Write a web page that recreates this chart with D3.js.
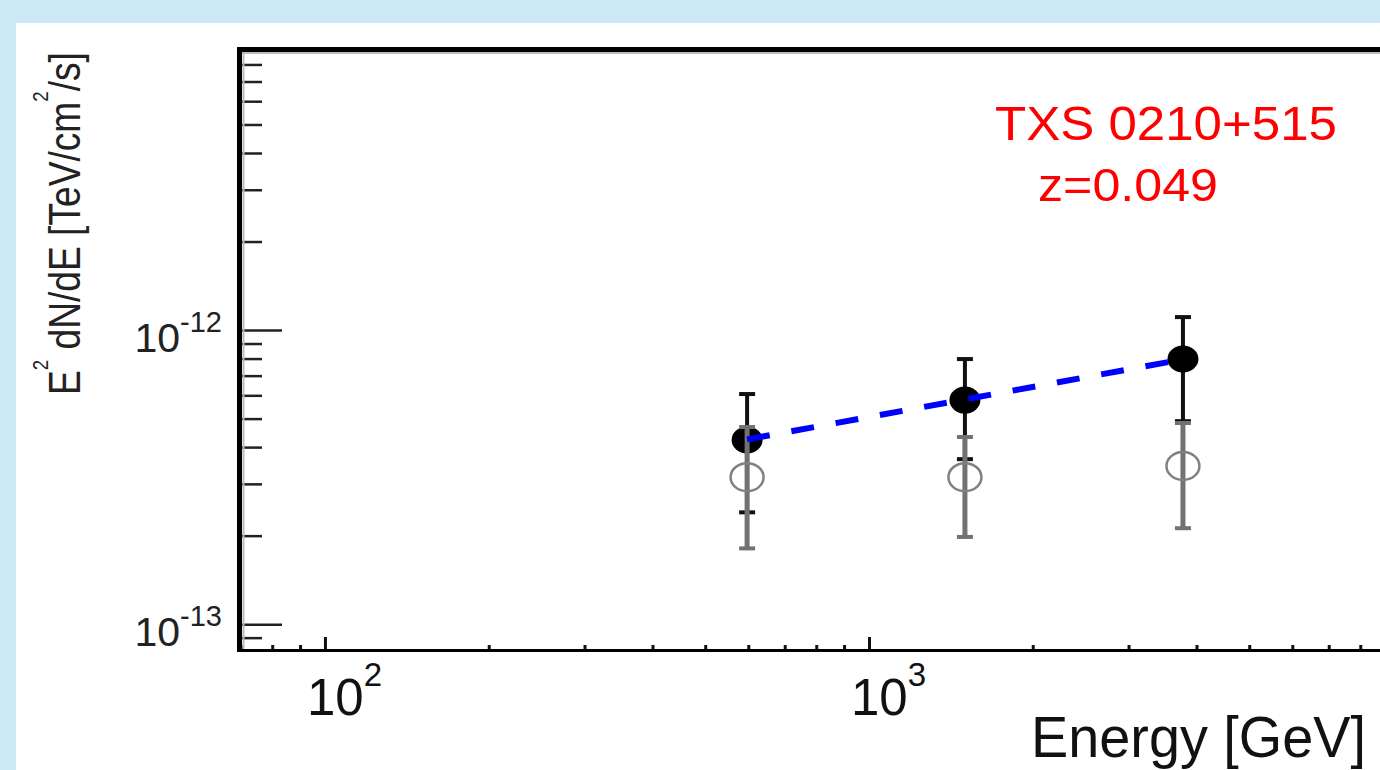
<!DOCTYPE html>
<html lang="en">
<head>
  <meta charset="utf-8">
  <title>TXS 0210+515 spectrum</title>
  <script src="https://cdn.jsdelivr.net/npm/d3@7"></script>
  <style>
    body { margin: 0; background: #cde8f5; }
    svg { display: block; }
    text { font-family: "Liberation Sans", Arial, sans-serif; }
  </style>
</head>
<body>
  <script>
    // energy bins [GeV]
    let energies = [597, 1501, 3777];
    // EBL corrected flux (filled black points)
    let fluxCorr = [4.23e-13, 5.78e-13, 7.97e-13];
    let fluxCorrUp = [6.06e-13, 7.97e-13, 1.107e-12];
    let fluxCorrLow = [2.40e-13, 3.64e-13, 4.90e-13];
    // observed flux (open grey points)
    let fluxObs = [3.16e-13, 3.16e-13, 3.45e-13];
    let fluxObsUp = [4.68e-13, 4.33e-13, 4.83e-13];
    let fluxObsLow = [1.81e-13, 1.98e-13, 2.12e-13];
    // power law fit, end points
    let fitEnergies = [597, 3777];
    let fitFlux = [4.25e-13, 7.95e-13];
    // axis ranges and the labelled decades
    let xDomain = [69.8, 1e4];
    let yDomain = [8.17e-14, 9.1e-12];
    let xDecades = [2, 3];
    let yDecades = [-13, -12];
    let sourceName = "TXS 0210+515";
    let redshiftText = "z=0.049";
    let xTitle = "Energy [GeV]";

    let width = 1380, height = 770;
    let plot = { left: 240, top: 48, right: 1413, bottom: 650 };

    let svg = d3.select("body").append("svg")
      .attr("width", width)
      .attr("height", height);

    // light blue border + white panel
    svg.append("rect").attr("width", width).attr("height", height).attr("fill", "#cde8f5");
    svg.append("rect").attr("x", 16).attr("y", 23)
      .attr("width", width - 16).attr("height", height - 23).attr("fill", "white");

    // scales
    let xScale = d3.scaleLog().domain(xDomain).range([plot.left, plot.right]);
    let yScale = d3.scaleLog().domain(yDomain).range([plot.bottom, plot.top]);

    let isDecade = v => Math.abs(Math.log10(v) - Math.round(Math.log10(v))) < 1e-6;
    let xMinor = xScale.ticks().filter(v => !isDecade(v));
    let yMinor = yScale.ticks().filter(v => !isDecade(v));
    let xMajor = xDecades.map(p => Math.pow(10, p));
    let yMajor = yDecades.map(p => Math.pow(10, p));

    // x axis ticks (inward)
    let xMinorG = svg.append("g").attr("transform", `translate(0, ${plot.bottom})`)
      .call(d3.axisBottom(xScale).tickValues(xMinor).tickSize(-5).tickFormat(""));
    let xMajorG = svg.append("g").attr("transform", `translate(0, ${plot.bottom})`)
      .call(d3.axisBottom(xScale).tickValues(xMajor).tickSize(-13).tickFormat(""));
    // y axis ticks (inward)
    let yMinorG = svg.append("g").attr("transform", `translate(${plot.left + 2}, 0)`)
      .call(d3.axisLeft(yScale).tickValues(yMinor).tickSize(-20).tickFormat(""));
    let yMajorG = svg.append("g").attr("transform", `translate(${plot.left + 2}, 0)`)
      .call(d3.axisLeft(yScale).tickValues(yMajor).tickSize(-40).tickFormat(""));
    [xMinorG, xMajorG].forEach(g => {
      g.select(".domain").remove();
      g.selectAll("line").attr("stroke", "#111").attr("stroke-width", 3);
    });
    [yMinorG, yMajorG].forEach(g => {
      g.select(".domain").remove();
      g.selectAll("line").attr("stroke", "#222").attr("stroke-width", 2.5);
    });

    // frame: thick left and top, thinner bottom
    svg.append("line").attr("x1", plot.left + 3.5).attr("x2", plot.left + 3.5)
      .attr("y1", plot.top).attr("y2", plot.bottom)
      .attr("stroke", "#bbb").attr("stroke-width", 2);
    svg.append("line").attr("x1", plot.left).attr("x2", plot.right)
      .attr("y1", plot.top + 5).attr("y2", plot.top + 5)
      .attr("stroke", "#bbb").attr("stroke-width", 2);
    svg.append("line").attr("x1", plot.left - 0.5).attr("x2", plot.left - 0.5)
      .attr("y1", plot.top - 1).attr("y2", plot.bottom + 2)
      .attr("stroke", "black").attr("stroke-width", 5);
    svg.append("line").attr("x1", plot.left - 3).attr("x2", plot.right)
      .attr("y1", plot.top + 1.5).attr("y2", plot.top + 1.5)
      .attr("stroke", "black").attr("stroke-width", 5);
    svg.append("line").attr("x1", plot.left - 3).attr("x2", plot.right)
      .attr("y1", plot.bottom + 0.5).attr("y2", plot.bottom + 0.5)
      .attr("stroke", "black").attr("stroke-width", 3);

    // x tick labels 10^n
    xDecades.forEach(p => {
      let t = svg.append("text")
        .attr("x", xScale(Math.pow(10, p)) - 18)
        .attr("y", plot.bottom + 65)
        .attr("font-size", 51).attr("fill", "#111");
      t.append("tspan").text("10");
      t.append("tspan").attr("dy", -29).attr("font-size", 33).text(p);
    });
    // y tick labels 10^n
    yDecades.forEach(p => {
      let t = svg.append("text")
        .attr("x", plot.left - 18)
        .attr("y", yScale(Math.pow(10, p)) + 22)
        .attr("text-anchor", "end")
        .attr("font-size", 41).attr("fill", "#222");
      t.append("tspan").text("10");
      t.append("tspan").attr("dy", -20).attr("font-size", 29).text(p);
    });

    // x title
    svg.append("text").text(xTitle)
      .attr("x", 1031).attr("y", 757)
      .attr("font-size", 58).attr("fill", "#111")
      .attr("textLength", 335).attr("lengthAdjust", "spacingAndGlyphs");

    // y title (rotated, squeezed to fit)
    let yTitleG = svg.append("g").attr("transform", "translate(80, 395) rotate(-90)");
    let yTitle = yTitleG.append("text").attr("font-size", 44).attr("fill", "#222");
    yTitle.append("tspan").text("E");
    yTitle.append("tspan").attr("dy", -32).attr("font-size", 22).text("2");
    yTitle.append("tspan").attr("dy", 32).text(" dN/dE [TeV/cm");
    yTitle.append("tspan").attr("dy", -32).attr("font-size", 22).text("2");
    yTitle.append("tspan").attr("dy", 32).text("/s]");
    let yTitleLen = yTitle.node().getComputedTextLength();
    yTitle.attr("transform", `scale(${343 / yTitleLen}, 1)`);

    // EBL corrected points: error bars + filled markers
    let corr = energies.map((e, i) => ({ e, f: fluxCorr[i], up: fluxCorrUp[i], lo: fluxCorrLow[i] }));
    let obs = energies.map((e, i) => ({ e, f: fluxObs[i], up: fluxObsUp[i], lo: fluxObsLow[i] }));

    function errorBars(data, color, w) {
      let g = svg.append("g").attr("stroke", color);
      g.selectAll(".bar").data(data).join("line")
        .attr("x1", d => xScale(d.e)).attr("x2", d => xScale(d.e))
        .attr("y1", d => yScale(d.up)).attr("y2", d => yScale(d.lo))
        .attr("stroke-width", w);
      ["up", "lo"].forEach(k => {
        g.selectAll(".cap-" + k).data(data).join("line")
          .attr("x1", d => xScale(d.e) - 8).attr("x2", d => xScale(d.e) + 8)
          .attr("y1", d => yScale(d[k])).attr("y2", d => yScale(d[k]))
          .attr("stroke-width", 4);
      });
    }

    errorBars(corr, "#111", 4);
    svg.append("g").selectAll("ellipse").data(corr).join("ellipse")
      .attr("cx", d => xScale(d.e)).attr("cy", d => yScale(d.f))
      .attr("rx", 15.5).attr("ry", 13.5)
      .attr("fill", "black");

    // observed points: grey bars + open markers
    errorBars(obs, "#727272", 5);
    svg.append("g").selectAll("ellipse").data(obs).join("ellipse")
      .attr("cx", d => xScale(d.e)).attr("cy", d => yScale(d.f))
      .attr("rx", 16.5).attr("ry", 14)
      .attr("fill", "none").attr("stroke", "#808080").attr("stroke-width", 2.5);

    // dashed fit line
    let fitLine = d3.line().x(d => xScale(d[0])).y(d => yScale(d[1]));
    svg.append("path")
      .datum(fitEnergies.map((e, i) => [e, fitFlux[i]]))
      .attr("d", fitLine)
      .attr("fill", "none").attr("stroke", "#0000ff")
      .attr("stroke-width", 6).attr("stroke-dasharray", "23,22");

    // source label
    svg.append("text").text(sourceName)
      .attr("x", 995).attr("y", 140)
      .attr("font-size", 48).attr("fill", "#ff0000")
      .attr("textLength", 342).attr("lengthAdjust", "spacingAndGlyphs");
    svg.append("text").text(redshiftText)
      .attr("x", 1038).attr("y", 201)
      .attr("font-size", 47).attr("fill", "#ff0000")
      .attr("textLength", 180).attr("lengthAdjust", "spacingAndGlyphs");
  </script>
</body>
</html>
